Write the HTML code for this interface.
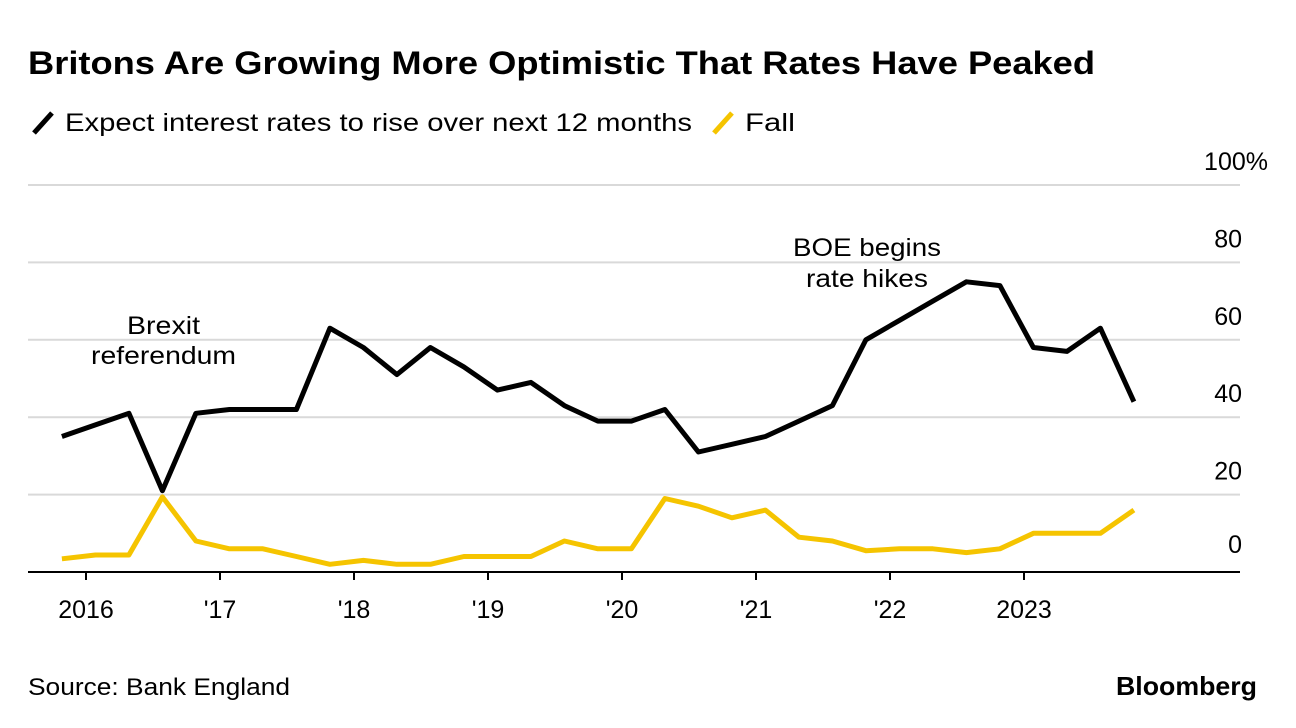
<!DOCTYPE html>
<html><head><meta charset="utf-8"><style>
body{margin:0;background:#fff;font-family:"Liberation Sans",sans-serif;}
#c{position:relative;width:1296px;height:728px;overflow:hidden}
</style></head><body><div id="c">
<svg width="1296" height="728" id="svg" font-family="Liberation Sans, sans-serif">
<text x="28" y="74" font-size="32" font-weight="bold" fill="#000" textLength="1067" lengthAdjust="spacingAndGlyphs">Britons Are Growing More Optimistic That Rates Have Peaked</text>
<g>
<line x1="34" y1="133" x2="52" y2="113" stroke="#000" stroke-width="5"/>
<text x="65" y="131" font-size="25" textLength="627" lengthAdjust="spacingAndGlyphs">Expect interest rates to rise over next 12 months</text>
<line x1="714" y1="133" x2="732" y2="113" stroke="#f5c400" stroke-width="5"/>
<text x="745" y="131" font-size="25" textLength="50" lengthAdjust="spacingAndGlyphs">Fall</text>
</g>
<g id="grid"></g><g id="xt"></g><g id="lines"></g>
<text x="91" y="334" font-size="25" textLength="73" lengthAdjust="spacingAndGlyphs" transform="translate(36,0)">Brexit</text>
<text x="91" y="364" font-size="25" textLength="145" lengthAdjust="spacingAndGlyphs">referendum</text>
<text x="793" y="256" font-size="25" textLength="148" lengthAdjust="spacingAndGlyphs">BOE begins</text>
<text x="806" y="287" font-size="25" textLength="122" lengthAdjust="spacingAndGlyphs">rate hikes</text>
<text x="28" y="695" font-size="24" textLength="262" lengthAdjust="spacingAndGlyphs">Source: Bank England</text>
<text x="1116" y="695" font-size="26" font-weight="bold" textLength="141" lengthAdjust="spacingAndGlyphs">Bloomberg</text>
</svg></div>
<script>
const rise=[35,38,41,21,41,42,42,42,63,58,51,58,53,47,49,43,39,39,42,31,33,35,39,43,60,65,70,75,74,58,57,63,44];
const fall=[3.4,4.4,4.4,19.4,8,6,6,4,2,3,2,2,4,4,4,8,6,6,19,17,14,16,9,8,5.5,6,6,5,6,10,10,10,16];
const startYear=2015.82;
const yTicks=[0,20,40,60,80,100];
const xTickYears=[2016,2017,2018,2019,2020,2021,2022,2023];
const xTickLabels=["2016","'17","'18","'19","'20","'21","'22","2023"];
const NS="http://www.w3.org/2000/svg";
const X=yr=>86+(yr-2016)*134;
const Y=v=>572-v*3.87;
function mk(t,a,p){const e=document.createElementNS(NS,t);for(const k in a)e.setAttribute(k,a[k]);p.appendChild(e);return e;}
const grid=document.getElementById('grid');
yTicks.forEach(v=>{
 if(v>0){const l=mk('line',{x1:28,x2:1240,y1:Y(v),y2:Y(v),stroke:'#d9d9d9','stroke-width':2},grid);
 
 }
 const t=mk('text',{x:v==100?1268:1242,y:v==0?Y(v)-19:Y(v)-15,'font-size':25,'text-anchor':'end'},grid);
 t.textContent=v==100?'100%':v;
 
 
});
const ax=mk('line',{x1:28,x2:1240,y1:572,y2:572,stroke:'#000','stroke-width':2},grid);


const xt=document.getElementById('xt');
xTickYears.forEach((yr,i)=>{
 const l=mk('line',{x1:X(yr),x2:X(yr),y1:572,y2:580,stroke:'#000','stroke-width':2},xt);
 
 
 const t=mk('text',{x:X(yr),y:618,'font-size':25,'text-anchor':'middle'},xt);
 t.textContent=xTickLabels[i];
 
 
});
const lines=document.getElementById('lines');
function pts(arr){return arr.map((v,i)=>X(startYear+0.25*i).toFixed(1)+','+Y(v).toFixed(1)).join(' ');}
const f=mk('polyline',{points:pts(fall),fill:'none',stroke:'#f5c400','stroke-width':5,'stroke-linejoin':'round'},lines);


const r=mk('polyline',{points:pts(rise),fill:'none',stroke:'#000','stroke-width':5,'stroke-linejoin':'round'},lines);


</script></body></html>
